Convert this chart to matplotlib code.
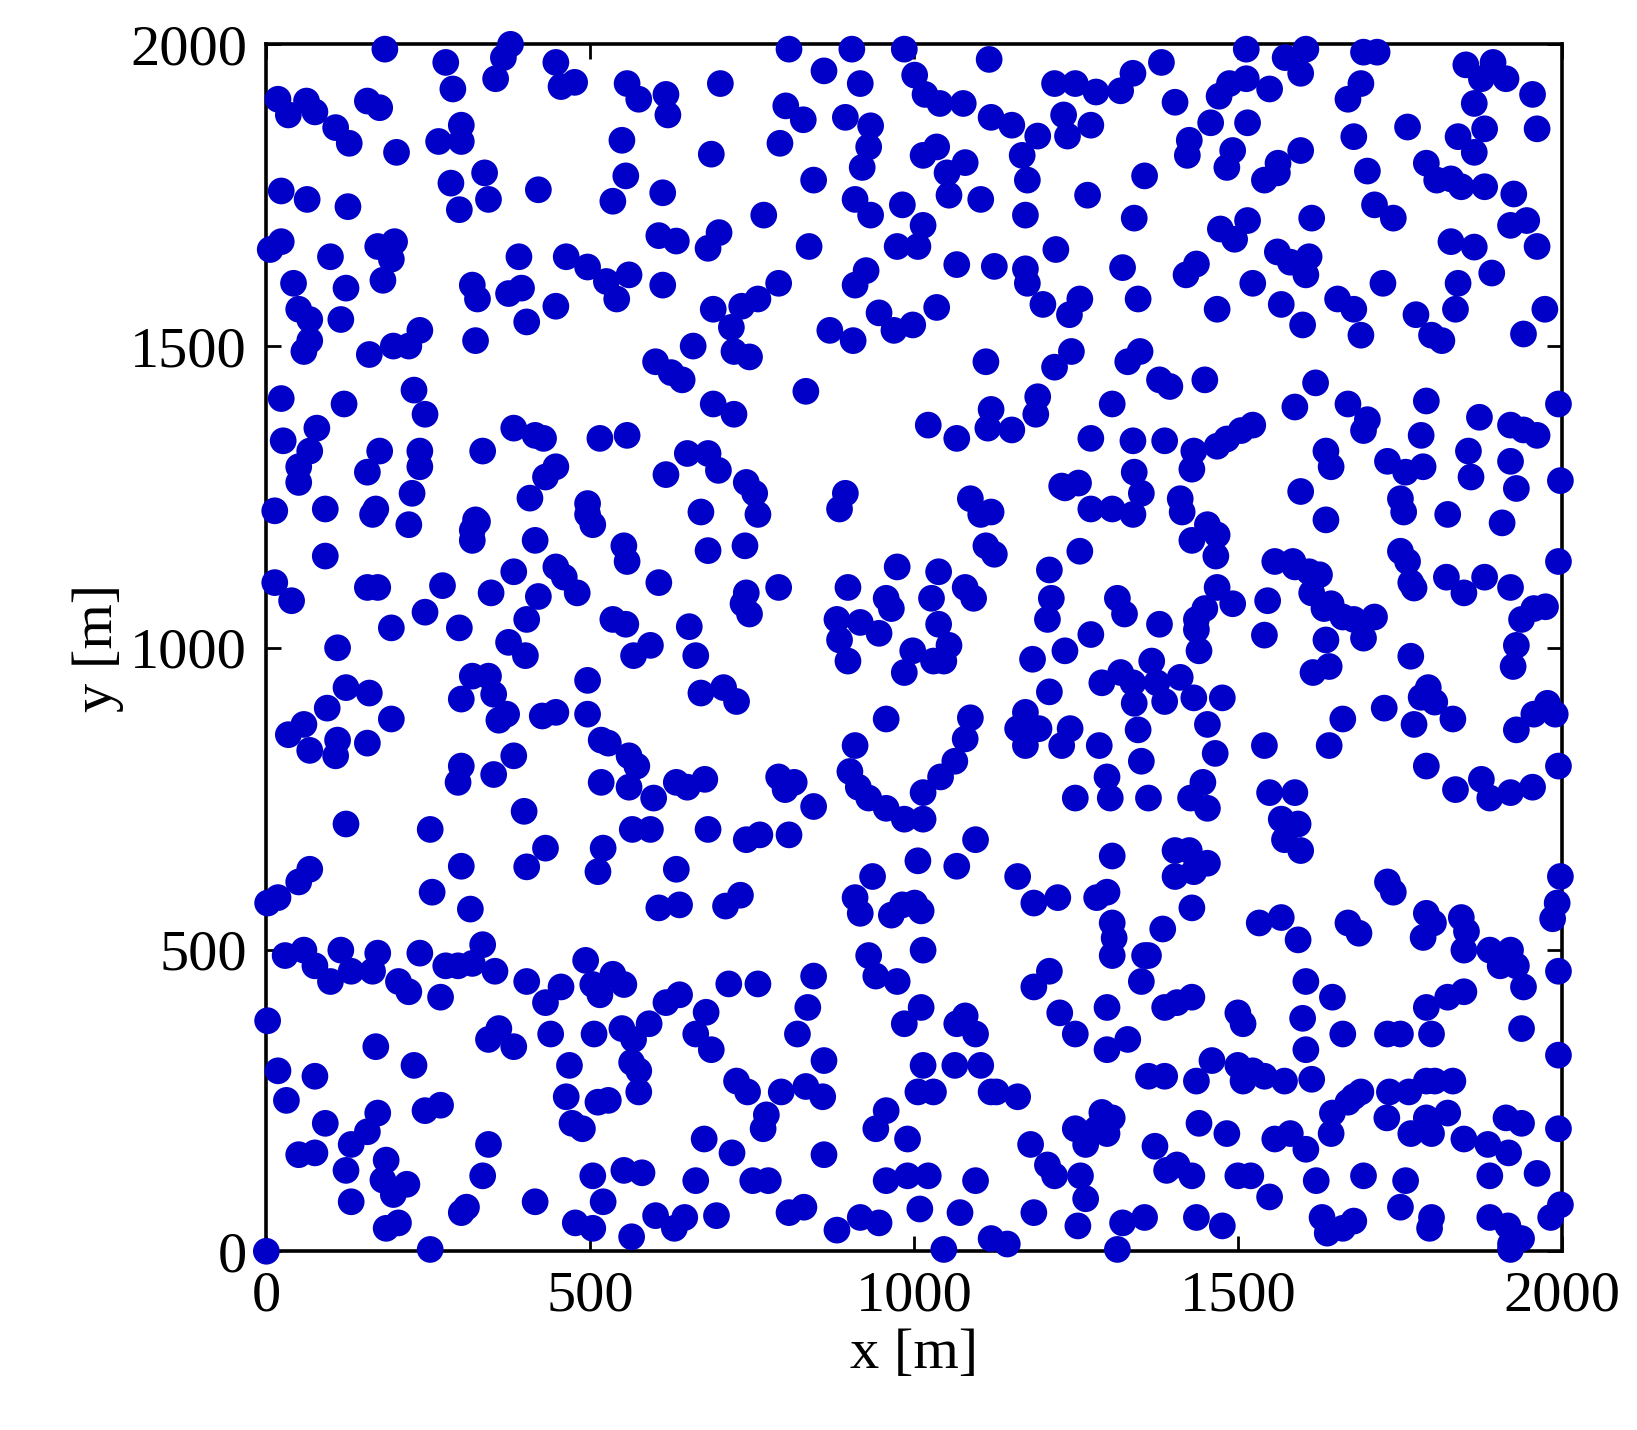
import numpy as np
import matplotlib.pyplot as plt

# node positions [m], grouped in bands of y
band_top = [(183,1992),(377,2000),(366,1978),(354,1943),(277,1970),(288,1926),(18,1909),(62,1906),(75,1888),(107,1862),(128,1836),(156,1906),(175,1895),(447,1970),(455,1930),(476,1937),(557,1935),(575,1909),(617,1917),(620,1883),(701,1935),(807,1992),(802,1898),(829,1875),(861,1956),(904,1992),(917,1935),(894,1879),(985,1992),(1001,1949),(1017,1917),(1040,1902),(1076,1902),(1116,1975),(1217,1935),(1249,1935),(1281,1921),(1319,1923),(1338,1952),(1382,1970),(1403,1904),(1471,1914),(1487,1935),(1513,1943),(1549,1926),(1513,1992),(1573,1978),(1597,1952),(1605,1992),(1670,1909),(1690,1935),(1694,1987),(1715,1987),(1852,1966),(1876,1943),(1894,1970),(1914,1943),(1955,1917),(1865,1902)]
band_1800 = [(34,1883),(201,1821),(266,1839),(301,1839),(301,1866),(285,1770),(298,1726),(337,1787),(343,1743),(23,1757),(63,1743),(126,1731),(420,1759),(549,1841),(555,1782),(535,1740),(612,1754),(687,1818),(793,1836),(845,1775),(768,1717),(933,1865),(930,1830),(920,1796),(909,1743),(933,1717),(982,1734),(1014,1816),(1035,1830),(1051,1787),(1054,1750),(1079,1804),(1103,1743),(1119,1879),(1151,1866),(1167,1816),(1175,1775),(1172,1717),(1191,1848),(1231,1883),(1237,1848),(1273,1866),(1268,1750),(1340,1712),(1356,1782),(1422,1816),(1425,1841),(1458,1870),(1483,1796),(1492,1824),(1515,1870),(1473,1694),(1495,1677),(1515,1708),(1541,1775),(1561,1787),(1562,1803),(1597,1824),(1614,1712),(1679,1847),(1700,1790),(1711,1734),(1740,1712),(1762,1863),(1791,1803),(1807,1775),(1829,1777),(1840,1847),(1845,1764),(1865,1821),(1881,1764),(1881,1860),(1926,1752),(1946,1708),(1921,1700),(1962,1860),(1962,1665)]
band_1600 = [(6,1660),(23,1673),(42,1604),(50,1561),(67,1544),(67,1509),(58,1491),(99,1648),(123,1596),(115,1544),(172,1665),(198,1673),(193,1644),(180,1609),(159,1486),(196,1500),(237,1526),(220,1500),(318,1601),(326,1578),(323,1509),(374,1587),(394,1596),(402,1540),(390,1648),(447,1566),(463,1648),(496,1631),(525,1607),(541,1578),(560,1618),(606,1683),(612,1601),(633,1674),(659,1500),(699,1688),(682,1662),(690,1561),(718,1531),(734,1566),(759,1578),(791,1604),(722,1491),(746,1482),(838,1665),(870,1526),(906,1509),(909,1601),(926,1625),(946,1555),(969,1526),(998,1535),(974,1665),(1006,1665),(1014,1700),(1035,1564),(1066,1635),(1124,1632),(1172,1628),(1175,1604),(1199,1569),(1219,1660),(1240,1552),(1256,1578),(1243,1491),(1217,1465),(1322,1630),(1346,1578),(1330,1474),(1349,1491),(1420,1618),(1436,1636),(1468,1561),(1523,1604),(1567,1569),(1561,1656),(1581,1639),(1605,1618),(1610,1648),(1600,1535),(1654,1578),(1679,1561),(1690,1518),(1724,1604),(1775,1552),(1799,1518),(1815,1509),(1836,1561),(1840,1604),(1829,1673),(1865,1664),(1892,1621),(1941,1520),(1974,1561)]
band_1400 = [(23,1413),(26,1343),(50,1300),(50,1274),(78,1364),(67,1326),(91,1230),(120,1404),(156,1291),(175,1326),(164,1221),(228,1427),(245,1387),(237,1326),(237,1300),(225,1256),(220,1204),(334,1326),(323,1212),(318,1195),(382,1364),(415,1352),(428,1347),(431,1283),(447,1300),(407,1248),(496,1221),(504,1204),(515,1347),(557,1352),(601,1474),(625,1456),(642,1444),(617,1287),(650,1322),(682,1322),(698,1294),(690,1404),(722,1387),(741,1274),(754,1256),(759,1221),(671,1225),(833,1425),(1022,1369),(1066,1347),(1111,1474),(1119,1395),(1114,1364),(1151,1361),(1191,1416),(1188,1387),(1228,1268),(1273,1347),(1254,1273),(1306,1404),(1338,1343),(1340,1291),(1379,1444),(1395,1433),(1449,1444),(1387,1343),(1432,1326),(1429,1296),(1468,1334),(1483,1346),(1505,1360),(1523,1369),(1588,1399),(1620,1439),(1636,1326),(1644,1300),(1670,1404),(1700,1378),(1694,1360),(1731,1309),(1783,1352),(1759,1291),(1786,1300),(1791,1409),(1856,1326),(1860,1283),(1873,1382),(1921,1369),(1921,1309),(1941,1361),(1962,1352),(1995,1404),(1998,1277),(1930,1264)]
band_1100 = [(13,1227),(13,1108),(39,1078),(91,1152),(110,1000),(156,1100),(172,1100),(169,1230),(193,1033),(245,1059),(272,1103),(298,1033),(318,1178),(326,1209),(347,1091),(382,1126),(415,1178),(402,1047),(374,1009),(400,987),(420,1085),(447,1134),(460,1117),(480,1091),(496,1239),(535,1047),(555,1039),(552,1169),(557,1143),(567,987),(593,1004),(606,1108),(653,1035),(663,987),(682,1161),(739,1169),(736,1073),(746,1056),(741,1091),(791,1100),(885,1230),(894,1256),(898,1100),(881,1047),(885,1013),(898,978),(917,1042),(946,1024),(957,1082),(974,1134),(965,1065),(985,959),(998,995),(1038,1126),(1027,1082),(1038,1039),(1054,1004),(1046,978),(1030,978),(1079,1100),(1092,1082),(1087,1247),(1103,1221),(1119,1225),(1124,1155),(1111,1169),(1183,981),(1209,1129),(1212,1082),(1206,1047),(1233,1265),(1256,1160),(1273,1230),(1273,1022),(1233,995),(1306,1230),(1314,1082),(1325,1056),(1338,1221),(1351,1256),(1379,1039),(1411,1247),(1414,1225),(1429,1178),(1453,1204),(1468,1187),(1466,1152),(1468,1100),(1492,1073),(1449,1065),(1436,1047),(1440,995),(1436,1030),(1546,1078),(1541,1021),(1557,1143),(1588,1134),(1610,1126),(1626,1121),(1597,1259),(1636,1212),(1614,1091),(1633,1065),(1644,1073),(1662,1051),(1679,1047),(1694,1016),(1711,1051),(1636,1013),(1641,969),(1616,959),(1585,1143),(1751,1247),(1756,1225),(1751,1160),(1762,1143),(1767,1108),(1772,1099),(1767,986),(1822,1117),(1849,1091),(1824,1221),(1881,1117),(1908,1207),(1921,1100),(1938,1047),(1957,1065),(1975,1068),(1930,1004),(1925,969),(1995,1143)]
band_850 = [(34,856),(58,873),(67,830),(94,900),(110,847),(123,934),(159,925),(156,842),(193,882),(301,915),(318,953),(343,953),(351,923),(359,880),(301,804),(296,777),(351,790),(382,821),(371,890),(426,887),(447,893),(496,946),(496,890),(517,847),(517,777),(528,842),(560,821),(572,804),(560,769),(598,751),(633,777),(650,769),(677,782),(671,925),(706,934),(726,911),(791,786),(801,765),(815,777),(845,737),(909,838),(901,795),(914,769),(930,751),(957,882),(957,734),(985,716),(1014,760),(1041,786),(1063,812),(1079,849),(1087,884),(1160,866),(1172,838),(1180,866),(1193,866),(1172,893),(1209,927),(1228,838),(1241,866),(1249,751),(1286,838),(1298,786),(1303,751),(1290,942),(1319,959),(1338,942),(1340,908),(1346,864),(1351,812),(1362,751),(1367,978),(1375,942),(1387,911),(1411,951),(1432,917),(1453,873),(1465,825),(1446,777),(1427,751),(1453,734),(1476,917),(1541,838),(1549,760),(1588,760),(1593,708),(1567,716),(1662,882),(1641,838),(1726,900),(1783,918),(1804,910),(1794,934),(1772,873),(1791,804),(1832,882),(1836,765),(1876,782),(1889,751),(1930,864),(1957,890),(1978,908),(1990,890),(1995,804),(1921,760),(1955,769)]
band_600 = [(2,577),(18,586),(50,612),(67,633),(107,821),(123,708),(253,699),(256,595),(315,567),(301,638),(398,729),(402,637),(431,668),(520,668),(512,629),(565,699),(593,699),(606,569),(633,633),(638,574),(682,699),(709,572),(732,590),(741,682),(762,690),(807,690),(909,586),(917,560),(936,621),(965,557),(982,574),(1001,577),(1011,564),(1014,499),(1006,647),(1014,716),(1066,638),(1095,682),(1160,621),(1185,577),(1222,586),(1282,586),(1298,595),(1306,544),(1309,519),(1306,655),(1356,490),(1384,534),(1429,569),(1425,664),(1432,629),(1403,664),(1403,621),(1453,643),(1533,544),(1567,553),(1572,682),(1597,664),(1593,516),(1670,544),(1687,527),(1731,612),(1740,595),(1791,560),(1786,520),(1802,544),(1845,553),(1853,530),(1849,499),(1889,499),(1921,499),(1993,577),(1998,621),(1986,551)]
band_400 = [(29,490),(58,499),(75,473),(99,447),(115,499),(131,464),(164,464),(172,494),(204,447),(237,494),(220,430),(269,421),(277,473),(296,473),(318,477),(334,508),(353,464),(359,369),(343,351),(382,339),(402,447),(431,412),(455,438),(439,360),(468,308),(493,482),(504,442),(515,425),(535,459),(552,442),(506,360),(549,369),(567,351),(564,313),(575,299),(591,377),(617,412),(638,425),(679,396),(663,360),(687,334),(714,443),(759,443),(795,264),(833,273),(820,360),(836,404),(845,456),(861,316),(930,490),(941,456),(974,447),(985,377),(1011,404),(1014,308),(1030,264),(1066,377),(1079,390),(1095,360),(1103,308),(1119,264),(1160,256),(1185,438),(1209,464),(1225,395),(1249,360),(1298,334),(1298,404),(1306,490),(1330,351),(1351,447),(1362,490),(1387,404),(1406,412),(1429,421),(1362,290),(1387,290),(1436,282),(1460,316),(1500,395),(1508,377),(1500,308),(1523,299),(1508,282),(1541,290),(1572,282),(1600,386),(1605,447),(1614,285),(1605,334),(1646,421),(1662,360),(1679,256),(1690,264),(1734,264),(1764,264),(1791,282),(1804,282),(1832,282),(1731,360),(1751,360),(1791,404),(1799,360),(1824,421),(1849,430),(1905,473),(1930,473),(1941,438),(1938,369),(1995,464),(1995,325)]
band_100 = [(0,0),(2,382),(18,299),(31,250),(50,160),(75,163),(91,212),(75,290),(131,177),(123,134),(131,82),(156,198),(172,229),(169,339),(185,151),(180,118),(196,94),(217,111),(185,38),(204,47),(228,308),(245,233),(269,242),(253,3),(309,73),(301,64),(334,125),(343,177),(415,82),(463,256),(472,212),(488,203),(477,47),(504,38),(504,125),(520,82),(512,247),(528,250),(552,134),(564,24),(575,264),(580,130),(601,59),(630,38),(646,56),(676,186),(663,117),(695,59),(719,163),(726,282),(743,264),(751,117),(775,117),(767,203),(772,226),(807,64),(830,73),(859,256),(861,160),(881,35),(917,56),(946,47),(957,117),(957,233),(941,203),(990,186),(990,125),(1009,70),(1006,264),(1022,125),(1046,3),(1063,308),(1071,64),(1095,117),(1119,21),(1144,12),(1127,264),(1180,177),(1185,64),(1206,143),(1217,125),(1253,42),(1257,125),(1249,203),(1282,203),(1298,195),(1290,230),(1265,177),(1306,221),(1265,87),(1314,3),(1322,47),(1356,56),(1372,174),(1390,134),(1406,143),(1429,125),(1436,56),(1476,42),(1440,212),(1483,195),(1500,125),(1520,125),(1549,90),(1557,186),(1581,195),(1605,169),(1621,117),(1630,56),(1638,30),(1662,38),(1679,50),(1644,195),(1646,229),(1670,247),(1694,125),(1730,221),(1751,73),(1759,117),(1767,195),(1791,221),(1799,195),(1799,56),(1796,38),(1824,229),(1849,186),(1886,177),(1889,125),(1889,56),(1917,42),(1918,163),(1921,12),(1938,21),(1938,212),(1962,129),(1983,56),(1995,203),(1998,77),(1914,221),(1921,3)]

nodes = band_top + band_1800 + band_1600 + band_1400 + band_1100 + band_850 + band_600 + band_400 + band_100
xs = np.array([p[0] for p in nodes])
ys = np.array([p[1] for p in nodes])

ticks = [0, 500, 1000, 1500, 2000]

plt.rcParams['font.family'] = ['Liberation Serif', 'DejaVu Serif']
fig = plt.figure(figsize=(16.37, 14.30), dpi=100)
ax = fig.add_axes([0.1627, 0.125, 0.7913, 0.844])
ax.scatter(xs, ys, s=370, color='#0000c8', edgecolors='none', clip_on=False, zorder=3)

ax.set_xlim(0, 2000)
ax.set_ylim(0, 2000)
ax.set_xticks(ticks)
ax.set_yticks(ticks)
ax.tick_params(direction='in', length=11, width=2, labelsize=42, pad=14,
               top=True, right=True)
for s in ax.spines.values():
    s.set_linewidth(2.6)
ax.set_xlabel('x [m]', fontsize=42, labelpad=4)
ax.set_ylabel('y [m]', fontsize=42, labelpad=4)

fig.savefig('out.png', dpi=100)
